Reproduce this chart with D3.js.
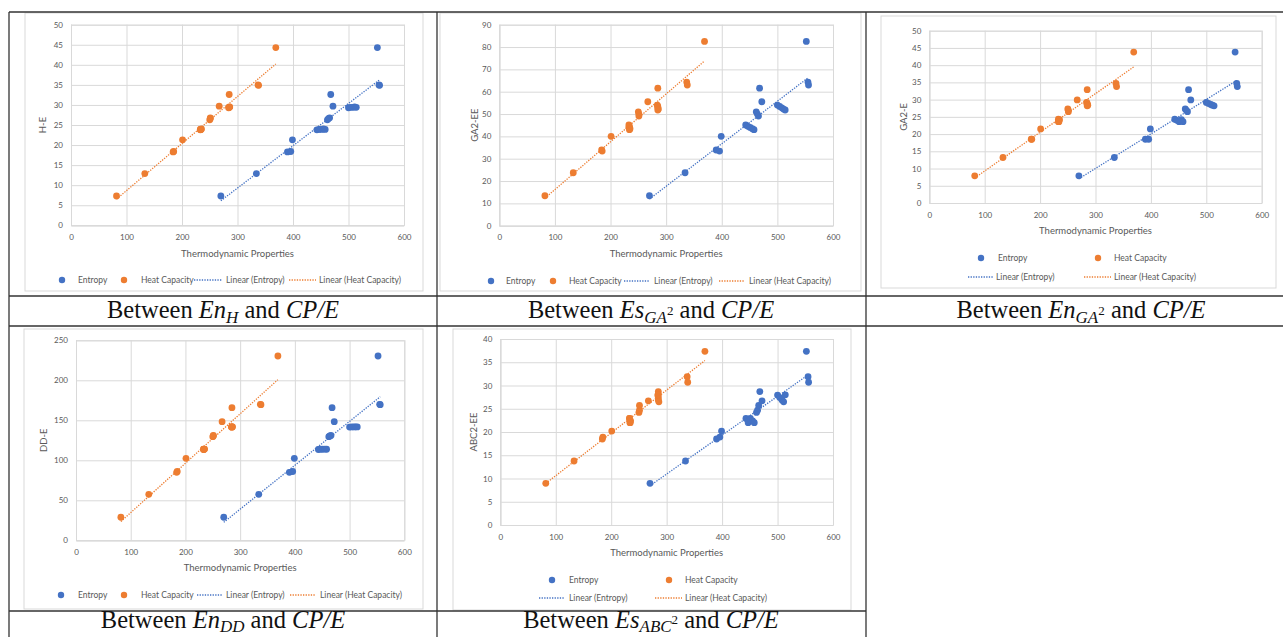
<!DOCTYPE html>
<html><head><meta charset="utf-8">
<script src="https://cdn.jsdelivr.net/npm/d3@7"></script>
<style>
html,body{margin:0;padding:0;background:#fff;}
svg{display:block;}
</style></head>
<body>
<svg id="fig" width="1283" height="637"></svg>
<script>
// ---------------- data ----------------
// thermodynamic properties of each compound (x values)
const entropy      = [270, 334, 390, 396, 399, 443, 447, 451, 455, 458, 462, 464, 466, 472, 468, 500, 504, 508, 511, 514, 555, 556, 552];
const heatCapacity = [ 82, 133, 184, 185, 201, 233, 234, 233, 235, 234, 250, 251, 251, 267, 285, 284, 285, 285, 286, 285, 337, 338, 369];
// topological indices (y values)
const indexHE     = [7.3, 12.9, 18.3, 18.4, 21.3, 23.8, 23.9, 23.9, 24.0, 23.9, 26.3, 26.6, 26.8, 29.7, 32.6, 29.3, 29.4, 29.4, 29.5, 29.4, 35.0, 34.9, 44.3];
const indexGA2EE  = [13.4, 23.7, 33.9, 33.4, 40.0, 45.1, 44.5, 44.0, 43.4, 43.0, 51.0, 50.0, 49.1, 55.5, 61.6, 54.0, 53.4, 52.8, 52.2, 51.8, 64.3, 63.0, 82.5];
const indexGA2E   = [7.9, 13.2, 18.5, 18.5, 21.5, 24.3, 24.0, 23.6, 24.2, 23.6, 27.3, 26.9, 26.5, 29.9, 32.9, 29.2, 28.9, 28.6, 28.4, 28.2, 34.7, 33.8, 43.8];
const indexDDE    = [28.8, 57.5, 85.0, 86.0, 102.5, 113.5, 113.8, 113.8, 114.0, 113.8, 129.5, 130.5, 131.0, 148.3, 165.8, 141.5, 141.7, 141.7, 141.8, 141.7, 170.0, 169.5, 230.4];
const indexABC2EE = [8.96, 13.76, 18.5, 18.9, 20.2, 22.9, 22.0, 22.9, 22.4, 22.0, 24.2, 24.7, 25.7, 26.7, 28.7, 27.95, 27.4, 26.9, 26.5, 28.0, 31.9, 30.7, 37.35];

const xTicks = [0, 100, 200, 300, 400, 500, 600];
const yTicksHE = [0, 5, 10, 15, 20, 25, 30, 35, 40, 45, 50];
const yTicksGA2EE = [0, 10, 20, 30, 40, 50, 60, 70, 80, 90];
const yTicksGA2E = [0, 5, 10, 15, 20, 25, 30, 35, 40, 45, 50];
const yTicksDDE = [0, 50, 100, 150, 200, 250];
const yTicksABC2EE = [0, 5, 10, 15, 20, 25, 30, 35, 40];

const xAxisTitle = "Thermodynamic Properties";
const legendLabels = ["Entropy", "Heat Capacity", "Linear (Entropy)", "Linear (Heat Capacity)"];
const yTitles = ["H-E", "GA2-EE", "GA2-E", "DD-E", "ABC2-EE"];
const captions = [
  {sym: "En", sub: "H", sup: ""},
  {sym: "Es", sub: "GA", sup: "2"},
  {sym: "En", sub: "GA", sup: "2"},
  {sym: "En", sub: "DD", sup: ""},
  {sym: "Es", sub: "ABC", sup: "2"}
];

// ---------------- drawing ----------------
const BLUE = "#4472C4", ORANGE = "#ED7D31", GRID = "#d9d9d9", TXT = "#595959";
const FONT = "Lato, 'Open Sans', sans-serif";
const svg = d3.select("#fig");

const layouts = [
  {box:[25,13,423,291], left:71, right:404, top:24.7, bottom:225.3, yTicks:yTicksHE, ys:indexHE, yTitleX:43,
   titleY:256.5, legend:{rows:[283,283], dots:[[62,78],[124,141]], lines:[[194,222,226],[289,316,319]]}},
  {box:[440,13,861,291], left:499.3, right:833, top:24.7, bottom:225.7, yTicks:yTicksGA2EE, ys:indexGA2EE, yTitleX:475,
   titleY:256.8, legend:{rows:[284,284], dots:[[491,506],[553,569]], lines:[[624,650,654],[719,745,749]]}},
  {box:[881,16,1276,288], left:929.3, right:1261.7, top:30.7, bottom:203, yTicks:yTicksGA2E, ys:indexGA2E, yTitleX:904,
   titleY:234.2, legend:{rows:[261,280], dots:[[981,998],[1098,1114]], lines:[[968,993,996],[1084,1111,1114]]}},
  {box:[24,329,423,609], left:76, right:404.3, top:340.3, bottom:540.3, yTicks:yTicksDDE, ys:indexDDE, yTitleX:44,
   titleY:570.5, legend:{rows:[598,598], dots:[[61,78],[124,141]], lines:[[197,222,226],[290,316,320]]}},
  {box:[453,329,851,610], left:500.3, right:833, top:339, bottom:525, yTicks:yTicksABC2EE, ys:indexABC2EE, yTitleX:474,
   titleY:556.2, legend:{rows:[583,601], dots:[[552,569],[669,685]], lines:[[539,564,569],[655,682,685]]}}
];

function fit(xs, ys) {
  const n = xs.length, mx = d3.mean(xs), my = d3.mean(ys);
  let sxy = 0, sxx = 0;
  for (let i = 0; i < n; i++) { sxy += (xs[i]-mx)*(ys[i]-my); sxx += (xs[i]-mx)*(xs[i]-mx); }
  const b = sxy/sxx, a = my - b*mx;
  const x0 = d3.min(xs), x1 = d3.max(xs);
  return [[x0, a + b*x0], [x1, a + b*x1]];
}

layouts.forEach((L, ci) => {
  const g = svg.append("g");
  const x = d3.scaleLinear().domain([0, 600]).range([L.left, L.right]);
  const y = d3.scaleLinear().domain([0, d3.max(L.yTicks)]).range([L.bottom, L.top]);

  g.append("rect").attr("x", L.box[0]).attr("y", L.box[1])
    .attr("width", L.box[2]-L.box[0]).attr("height", L.box[3]-L.box[1])
    .attr("fill", "#fff").attr("stroke", GRID).attr("stroke-width", 1);

  const ya = g.append("g").attr("transform", `translate(${L.left},0)`)
    .call(d3.axisLeft(y).tickValues(L.yTicks).tickSize(-(L.right-L.left)).tickPadding(8).tickFormat(d3.format("d")));
  const xa = g.append("g").attr("transform", `translate(0,${L.bottom})`)
    .call(d3.axisBottom(x).tickValues(xTicks).tickSize(-(L.bottom-L.top)).tickPadding(9).tickFormat(d3.format("d")));
  [ya, xa].forEach(a => {
    a.select(".domain").attr("stroke", GRID);
    a.selectAll(".tick line").attr("stroke", GRID).attr("stroke-width", 1);
    a.selectAll(".tick text").attr("fill", TXT).style("font-family", FONT).style("font-size", "8px");
  });

  // axis titles
  g.append("text").attr("x", (L.left+L.right)/2).attr("y", L.titleY).attr("text-anchor", "middle")
    .attr("fill", TXT).style("font-family", FONT).style("font-size", "9.5px").text(xAxisTitle);
  g.append("text").attr("transform", `translate(${L.yTitleX + 3},${(L.top+L.bottom)/2}) rotate(-90)`)
    .attr("text-anchor", "middle").attr("fill", TXT).style("font-family", FONT).style("font-size", "9.5px").text(yTitles[ci]);

  // points
  const series = [{xs: entropy, color: BLUE}, {xs: heatCapacity, color: ORANGE}];
  series.forEach(s => {
    g.append("g").selectAll("circle").data(s.xs.map((v, i) => [v, L.ys[i]])).join("circle")
      .attr("cx", d => x(d[0])).attr("cy", d => y(d[1])).attr("r", 3.4).attr("fill", s.color);
  });
  // trendlines
  const line = d3.line().x(d => x(d[0])).y(d => y(d[1]));
  series.forEach(s => {
    g.append("path").attr("d", line(fit(s.xs, L.ys))).attr("fill", "none")
      .attr("stroke", s.color).attr("stroke-width", 1.3).attr("stroke-dasharray", "1.3,1.3");
  });

  // legend
  const lg = L.legend;
  lg.dots.forEach((d, i) => {
    g.append("circle").attr("cx", d[0]).attr("cy", lg.rows[0]-3).attr("r", 3.2).attr("fill", series[i].color);
    g.append("text").attr("x", d[1]).attr("y", lg.rows[0]).attr("fill", TXT)
      .style("font-family", FONT).style("font-size", "8.5px").text(legendLabels[i]);
  });
  lg.lines.forEach((d, i) => {
    g.append("line").attr("x1", d[0]).attr("x2", d[1]).attr("y1", lg.rows[1]-3).attr("y2", lg.rows[1]-3)
      .attr("stroke", series[i].color).attr("stroke-width", 1.3).attr("stroke-dasharray", "1.3,1.3");
    g.append("text").attr("x", d[2]).attr("y", lg.rows[1]).attr("fill", TXT)
      .style("font-family", FONT).style("font-size", "8.5px").text(legendLabels[i+2]);
  });
});

// table borders
const LINE = "#333";
const hLines = [[9, 1283, 12], [9, 1283, 296], [9, 1283, 326], [9, 866, 611]];
const vLines = [[9, 12, 637], [437, 12, 637], [866, 12, 637]];
hLines.forEach(h => svg.append("line").attr("x1", h[0]).attr("x2", h[1]).attr("y1", h[2]).attr("y2", h[2])
  .attr("stroke", LINE).attr("stroke-width", 1.3));
vLines.forEach(v => svg.append("line").attr("x1", v[0]).attr("x2", v[0]).attr("y1", v[1]).attr("y2", v[2])
  .attr("stroke", LINE).attr("stroke-width", 1.3));

// captions
const capPos = [[223, 318, 5], [651, 318, 5], [1081, 318, 5], [223, 628, 4], [651, 628, 4]];
const SERIF = "'Liberation Serif', 'DejaVu Serif', serif";
captions.forEach((c, i) => {
  const sh = capPos[i][2];
  const t = svg.append("text").attr("x", capPos[i][0]).attr("y", capPos[i][1]).attr("text-anchor", "middle")
    .attr("fill", "#111").style("font-family", SERIF).style("font-size", "24.5px");
  t.append("tspan").text("Between ");
  t.append("tspan").style("font-style", "italic").text(c.sym);
  t.append("tspan").style("font-style", "italic").style("font-size", "17px").attr("dy", sh).text(c.sub);
  let back = -sh;
  if (c.sup) {
    t.append("tspan").style("font-size", "13px").attr("dy", -8).text(c.sup);
    back = 8 - sh;
  }
  t.append("tspan").attr("dy", back).text(" and ");
  t.append("tspan").style("font-style", "italic").text("CP/E");
});
</script>
</body></html>
